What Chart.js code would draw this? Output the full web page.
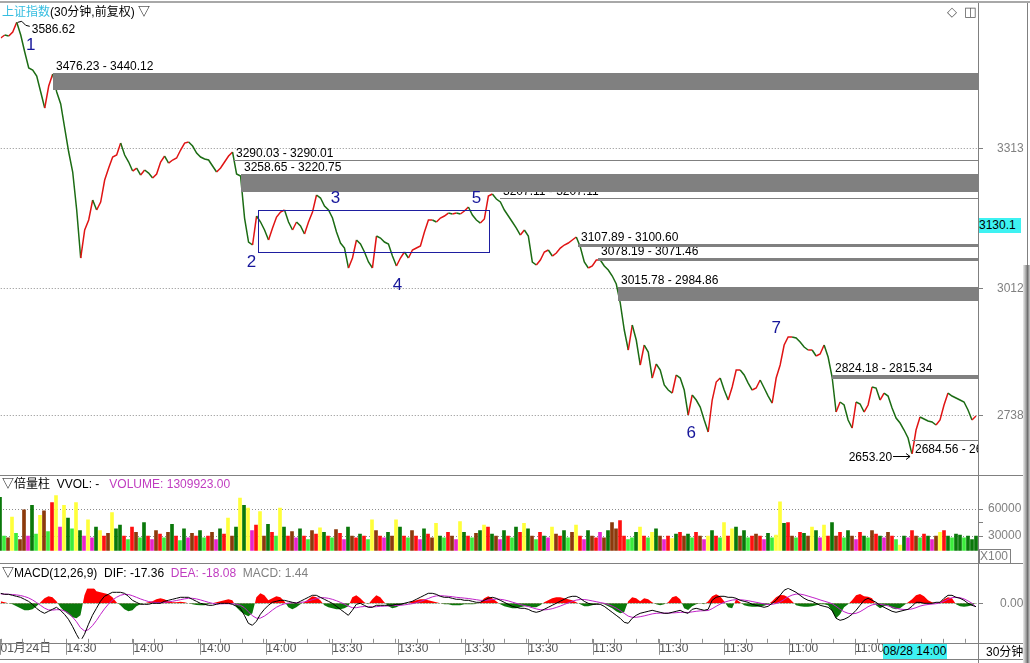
<!DOCTYPE html>
<html><head><meta charset="utf-8">
<script src="https://cdn.jsdelivr.net/npm/chart.js@4/dist/chart.umd.min.js"></script>
<style>
html,body{margin:0;padding:0;background:#fff;}
#wrap{position:relative;width:1030px;height:663px;overflow:hidden;font-family:"Liberation Sans","Noto Sans CJK SC",sans-serif;font-size:12px;color:#000;}
canvas{position:absolute;left:0;}
.t{position:absolute;white-space:nowrap;line-height:14px;}
.ln{position:absolute;background:#808080;}
</style></head><body><div id="wrap">
<canvas id="cPrice" width="1030" height="475" style="top:0px"></canvas>
<canvas id="cVol" width="1030" height="87" style="top:476px"></canvas>
<canvas id="cMacd" width="1030" height="99" style="top:564px"></canvas>

<div class="ln" style="left:0;top:1px;width:1030px;height:2px;background:#a8a8a8"></div>
<div class="ln" style="left:978px;top:3px;width:1px;height:660px"></div>
<div class="ln" style="left:1027px;top:3px;width:1px;height:262px"></div>
<div class="ln" style="left:0;top:475px;width:1030px;height:1px"></div>
<div class="ln" style="left:0;top:563px;width:1030px;height:1px"></div>
<div class="ln" style="left:0;top:643px;width:1030px;height:1px"></div>
<div class="ln" style="left:0;top:659px;width:1030px;height:1px"></div>
<div style="position:absolute;left:1023px;top:265px;width:7px;height:398px;background:linear-gradient(to right,#ececec,#a0a0a0 45%,#6e6e6e 65%,#d0d0d0)"></div>

<div class="t" style="left:2px;top:5px;"><span style="color:#35bde0">上证指数</span>(30分钟,前复权) ▽</div>
<div class="t" style="left:947px;top:5px;color:#555;font-family:'DejaVu Sans';font-size:13px">◇</div>
<div class="t" style="left:964px;top:5px;color:#555;font-family:'DejaVu Sans';font-size:13px">◫</div>
<div class="t" style="left:979px;top:218px;width:42px;height:15px;line-height:15px;background:#3ef2f2">3130.1</div>

<div class="t" style="left:2px;top:477px;">▽倍量柱&nbsp; VVOL: -&nbsp;&nbsp; <span style="color:#c03cc0">VOLUME: 1309923.00</span></div>
<div class="t" style="left:979px;top:549px;width:30px;height:13px;line-height:13px;border:1px solid #808080;color:#808080;">X100</div>

<div class="t" style="left:2px;top:566px;">▽MACD(12,26,9)&nbsp; DIF: -17.36&nbsp; <span style="color:#c03cc0">DEA: -18.08</span>&nbsp; <span style="color:#808080">MACD: 1.44</span></div>
<div class="t" style="left:883px;top:644px;width:64px;height:15px;line-height:15px;background:#3ef2f2">08/28 14:00</div>
<div class="t" style="left:986px;top:645px;">30分钟</div>
</div>
<script>
// ---------- DATA ----------
const priceValues = [
3552.8,3559.2,3557.0,3565.7,3586.6,3559.2,3522.5,3487.9,3483.6,3470.6,
3436.1,3401.5,3449.0,3475.0,3436.1,3410.2,3358.3,3306.5,3263.3,3181.2,
3077.5,3138.0,3159.6,3202.8,3181.2,3198.5,3246.0,3271.9,3295.7,3300.0,
3325.9,3300.0,3284.9,3265.4,3271.9,3256.8,3267.6,3261.1,3250.3,3259.0,
3284.9,3297.8,3282.7,3289.2,3293.5,3310.8,3325.9,3328.1,3319.4,3304.3,
3295.7,3291.4,3289.2,3276.2,3263.3,3271.9,3284.9,3297.8,3306.5,3259.0,
3254.6,3163.9,3112.1,3105.6,3168.2,3155.3,3138.0,3116.4,3142.3,3166.1,
3176.9,3181.2,3155.3,3138.0,3155.3,3146.6,3129.4,3155.3,3176.9,3213.6,
3207.1,3189.8,3181.2,3163.9,3133.7,3109.9,3099.1,3055.9,3077.5,3116.4,
3107.8,3090.5,3068.9,3055.9,3125.0,3120.7,3112.1,3107.8,3081.8,3060.2,
3077.5,3090.5,3077.5,3094.8,3099.1,3103.4,3133.7,3159.6,3159.6,3155.3,
3163.9,3168.2,3174.7,3172.6,3174.7,3172.6,3179.0,3187.7,3170.4,3159.6,
3153.1,3161.8,3211.4,3215.8,3205.0,3198.5,3181.2,3168.2,3155.3,3142.3,
3127.2,3138.0,3125.0,3068.9,3062.4,3073.2,3090.5,3094.8,3081.8,3088.3,
3099.1,3105.6,3109.9,3116.4,3122.9,3101.3,3068.9,3055.9,3060.2,3073.2,
3073.2,3060.2,3051.6,3038.6,3021.4,2980.3,2922.0,2878.8,2932.8,2900.4,
2846.4,2889.6,2874.5,2818.3,2848.6,2835.6,2803.2,2792.4,2785.9,2824.8,
2818.3,2792.4,2738.4,2781.6,2770.8,2755.7,2727.6,2701.7,2770.8,2809.7,
2818.3,2792.4,2770.8,2798.9,2835.6,2835.6,2824.8,2807.5,2792.4,2796.7,
2814.0,2796.7,2779.4,2764.3,2818.3,2846.4,2889.6,2906.9,2906.9,2904.7,
2896.1,2885.3,2878.8,2878.8,2865.8,2870.2,2889.6,2863.7,2820.5,2744.9,
2766.5,2760.0,2727.6,2710.3,2766.5,2762.2,2744.9,2760.0,2798.9,2796.7,
2770.8,2785.9,2779.4,2753.5,2731.9,2721.1,2706.0,2688.7,2653.2,2706.0,
2734.1,2729.8,2725.4,2723.3,2716.8,2727.6,2760.0,2785.9,2779.4,2775.1,
2770.8,2766.5,2749.2,2727.6,2736.2];

const volValues = [
73000,30000,28000,51000,33000,26000,59000,30000,64000,32000,
53000,58000,35000,67000,75000,40000,64000,50000,38000,67000,
36000,30000,48000,28000,40000,36000,30000,33000,56000,38000,
42000,30000,26000,40000,34000,28000,45000,30000,26000,36000,
32000,28000,34000,43000,30000,25000,38000,28000,33000,30000,
36000,28000,30000,34000,26000,38000,32000,50000,30000,40000,
72000,64000,61000,36000,42000,57000,30000,43000,34000,30000,
61000,40000,30000,35000,28000,38000,30000,26000,36000,32000,
39000,34000,30000,28000,37000,33000,26000,40000,30000,28000,
32000,30000,26000,48000,36000,30000,28000,34000,30000,48000,
40000,30000,28000,36000,30000,26000,38000,32000,28000,44000,
30000,28000,34000,30000,26000,46000,34000,30000,28000,33000,
36000,42000,40000,32000,30000,26000,36000,30000,28000,40000,
34000,44000,38000,30000,26000,34000,30000,28000,40000,32000,
30000,36000,28000,34000,42000,30000,26000,36000,30000,28000,
34000,28000,36000,45000,38000,47000,30000,26000,28000,34000,
40000,30000,28000,34000,38000,30000,26000,30000,27000,32000,
34000,30000,32000,28000,34000,30000,26000,30000,36000,30000,
28000,45000,30000,38000,40000,30000,36000,28000,30000,32000,
30000,26000,33000,28000,31000,68000,44000,45000,30000,28000,
34000,33000,30000,40000,36000,28000,42000,30000,45000,30000,
34000,28000,36000,30000,26000,34000,30000,28000,36000,32000,
30000,28000,34000,30000,26000,20000,30000,28000,36000,30000,
28000,32000,30000,26000,30000,34000,36000,30000,28000,32000,
31000,28000,30000,26000,30000];

const volColorCodes = [
"GLBYLBBMGL","YBLRYMYGLY","GMYMGYRBYG","GRLRBLGRMB","RLBGRLGMBR",
"GLRBMGRYBG","YGYMRYBGRL","YGRBMGRLBR","YGRLBRMGBR","GRLYBRMGBY",
"GRLBRMGRBY","GLRBMYGRLB","GYRGBMGRLG","RYGBLRGMYB","RGLBYRMGBR",
"MBGBBRRLLG","YRLYGBMRYG","RBGLRBMYGR","LYRYGBGLRB","RMGLYYGRBL",
"RGBYGMYRGB","RLGBMRGLBR","GMBRLYGMRB","LRGMBYRGLG","GLGGG"].join('').split('');

const difValues = [
50,45,45,40,35,30,20,10,-5,-25,
-40,-50,-40,-30,-20,-35,-55,-80,-115,-155,
-190,-155,-105,-60,-25,10,35,45,55,55,
55,50,35,15,5,-5,-5,-5,0,0,
0,10,15,20,25,30,30,30,20,10,
0,-5,-10,-10,-5,0,0,0,-5,-15,
-25,-60,-100,-110,-90,-55,-30,-10,5,10,
15,15,10,5,0,10,20,30,40,40,
30,20,10,0,-15,-30,-45,-60,-35,-5,
0,-10,-20,-20,-10,-10,-10,-10,-10,-5,
-5,0,5,10,20,30,40,50,50,45,
35,30,30,25,20,20,15,15,10,5,
5,15,25,30,25,15,5,-5,-15,-20,
-25,-25,-30,-40,-45,-40,-30,-20,-10,0,
10,20,30,35,35,25,10,0,-5,-5,
-5,-15,-30,-45,-60,-75,-95,-100,-75,-60,
-50,-45,-40,-35,-40,-45,-50,-50,-45,-40,
-35,-45,-50,-30,-25,-30,-35,-30,15,30,
35,35,30,30,25,15,10,5,-5,-10,
-15,-20,-15,0,15,40,65,75,65,55,
40,25,15,10,0,-10,-15,-20,-35,-75,
-85,-80,-70,-55,-35,-10,15,25,15,5,
-10,-20,-30,-40,-45,-40,-35,-30,-15,5,
5,0,0,0,5,5,25,40,40,30,
25,15,0,-10,-17];

const deaValues = [
47,46,45,44,42,39,34,27,17,4,
-10,-24,-33,-34,-32,-32,-38,-50,-68,-92,
-122,-138,-132,-112,-86,-56,-28,-4,16,30,
40,45,44,38,30,22,15,9,6,4,
3,4,7,10,14,18,22,25,25,22,
17,11,5,0,-3,-3,-2,-2,-2,-5,
-10,-22,-42,-62,-74,-74,-64,-50,-34,-20,
-10,-3,1,3,3,4,7,12,18,24,
28,28,25,20,13,5,-4,-14,-22,-22,
-18,-16,-17,-18,-17,-15,-14,-13,-12,-11,
-10,-8,-5,-2,3,9,16,24,32,37,
38,37,35,33,30,28,26,24,21,18,
15,14,16,19,21,20,17,12,6,0,
-6,-11,-16,-22,-28,-32,-33,-31,-27,-21,
-14,-6,2,10,16,19,19,16,12,8,
4,0,-6,-14,-24,-36,-50,-64,-70,-70,
-67,-63,-58,-53,-50,-49,-49,-49,-48,-47,
-45,-45,-46,-43,-40,-38,-37,-36,-27,-15,
-4,5,11,16,18,18,16,13,9,5,
1,-3,-6,-5,-1,7,19,32,41,46,
46,42,36,30,24,17,11,5,-2,-15,
-30,-42,-50,-53,-50,-42,-30,-17,-8,-4,
-5,-8,-13,-19,-25,-29,-31,-31,-28,-22,
-14,-9,-6,-4,-2,2,10,20,28,30,
28,22,12,0,-18];

const macdValues = [
10,5,0,-5,-15,-25,-35,-35,-30,-15,
5,25,35,30,10,-20,-40,-55,-70,-75,
-60,40,90,85,60,55,50,45,30,5,
-10,-30,-40,-35,-15,-5,0,5,10,20,
25,20,10,5,5,8,5,0,-5,-8,
-10,-10,-5,0,5,10,15,20,15,-20,
-40,-55,-65,-50,30,50,40,15,25,35,
30,10,-20,-30,-20,-5,5,20,35,30,
15,-10,-20,-25,-30,-30,-25,-15,30,40,
25,5,-5,20,40,30,5,-15,-25,-20,
-10,-5,0,10,15,20,20,15,10,5,
0,-5,-5,-10,-10,-10,-5,-5,-5,-3,
5,25,35,25,10,-5,-15,-20,-25,-25,
-20,-15,-15,-20,-20,-10,5,15,25,30,
30,25,20,15,5,-5,-15,-15,-10,-5,
0,-5,-15,-25,-40,-50,-45,10,30,25,
10,25,20,5,-5,-10,-5,5,30,37,
20,-25,-33,-15,-5,0,-5,10,35,45,
35,10,-20,-25,20,5,-10,-15,-17,-17,
-15,-12,-5,10,30,42,40,30,10,-10,
-15,-17,-17,-15,-10,-5,-5,-10,-40,-75,
-55,-20,-5,15,40,47,35,33,25,-10,
-25,-15,-10,-25,-30,-25,-10,5,20,40,
47,35,15,5,0,5,20,30,25,-5,
-15,-17,-15,-10,1.44];

const priceTicks = [3313, 3012, 2738];
const volTicks = [60000, 45000, 30000];
const macdTicks = [0];
const xTickIdx = [0,16.5,33.25,50,66.5,83,99.5,116.25,132,148.25,164.75,181,197.25,213.75];
const xTickLabels = ['01月24日','14:30','14:00','14:00','14:00','13:30','13:30','13:30','13:30','11:30','11:30','11:30','11:00','11:00'];

const gapStart = [13, 58, 60, 125, 144.5, 149.5, 154.5, 208, 228];
const gapHi = [3476.23, 3290.03, 3258.65, 3207.11, 3107.89, 3078.19, 3015.78, 2824.18, 2684.56];
const gapLo = [3440.12, 3290.01, 3220.75, 3207.11, 3100.60, 3071.46, 2984.86, 2815.34, 2684.50];
const gapDir = ['down','down','down','down','down','down','down','down','up'];

const waveNames = ['1','2','3','4','5','6','7'];
const waveIdx = [7.5, 62.75, 83.75, 99.25, 119, 172.75, 194];
const waveVal = [3537.6, 3068.9, 3207, 3019, 3207, 2699.5, 2926.3];
const boxIdx = [64.25, 122.25];
const boxVal = [3181.2, 3090.5];
const peakIdx = 4, peakVal = 3586.62;
const lowIdx = 228, lowVal = 2653.20;

// ---------- CHARTS ----------
Chart.defaults.font.family = '"Liberation Sans","Noto Sans CJK SC",sans-serif';
Chart.defaults.font.size = 12;

const palette = {R:'#ff1010', G:'#0a780a', B:'#8c3a0c', L:'#3cec3c', M:'#e824cc', Y:'#ffff3a'};
const volColors = volColorCodes.map(c => palette[c]);
const N = 244.5;

const common = {
  responsive:false, animation:false, events:[], devicePixelRatio:1,
  layout:{padding:0},
  plugins:{legend:{display:false}, tooltip:{enabled:false}}
};

function rightAxis(tickVals, fmt, pad, min, max){
  return {
    type:'linear', position:'right', min:min, max:max,
    afterFit: s => { s.width = 52; },
    afterBuildTicks: s => { s.ticks = tickVals.map(v => ({value:v})); },
    ticks:{ callback: v => fmt(v), color:'#808080', padding:pad, autoSkip:false, font:{size:12} },
    grid:{ color: c => (c.tick && fmt(c.tick.value) === '') ? 'rgba(0,0,0,0)' : '#8c8c8c',
           lineWidth:1, drawTicks:true, tickLength:5, tickColor:'#808080', tickBorderDash:[] },
    border:{ display:false, dash:[1,2] }
  };
}

const annotPlugin = {
  id:'annot',
  afterDatasetsDraw(chart){
    const {ctx, chartArea:a, scales:{x, y}} = chart;
    ctx.save();
    ctx.beginPath(); ctx.rect(a.left, 0, a.right - a.left, chart.height); ctx.clip();
    ctx.font = '12px "Liberation Sans", sans-serif';
    ctx.fillStyle = '#000'; ctx.textAlign = 'left'; ctx.textBaseline = 'alphabetic';
    const g = gapStart.map((s, k) => ({
      px: Math.round(x.getPixelForValue(s)),
      top: y.getPixelForValue(gapHi[k]), bot: y.getPixelForValue(gapLo[k])
    }));
    g.forEach((o, k) => {
      const txt = gapHi[k].toFixed(2) + ' - ' + gapLo[k].toFixed(2);
      const ty = gapDir[k] === 'up' ? o.bot + 13 : o.top - 3;
      ctx.fillText(txt, o.px + 3, ty);
    });
    ctx.fillStyle = '#808080';
    g.forEach(o => {
      const t = Math.round(o.top);
      ctx.fillRect(o.px, t, a.right - o.px, Math.max(1, Math.round(o.bot - o.top)));
    });
    const bx1 = Math.round(x.getPixelForValue(boxIdx[0])) + 0.5, bx2 = Math.round(x.getPixelForValue(boxIdx[1])) + 0.5;
    const by1 = Math.round(y.getPixelForValue(boxVal[0])) + 0.5, by2 = Math.round(y.getPixelForValue(boxVal[1])) + 0.5;
    ctx.strokeStyle = '#1e1ea0'; ctx.lineWidth = 1;
    ctx.strokeRect(bx1, by1, bx2 - bx1, by2 - by1);
    const ppx = x.getPixelForValue(peakIdx), ppy = y.getPixelForValue(peakVal);
    ctx.strokeStyle = '#000';
    ctx.beginPath(); ctx.moveTo(ppx + 1, ppy); ctx.lineTo(ppx + 5, ppy - 1); ctx.lineTo(ppx + 9, ppy + 3); ctx.lineTo(ppx + 13, ppy + 4); ctx.stroke();
    ctx.fillStyle = '#000';
    ctx.fillText(peakVal.toFixed(2), ppx + 15, ppy + 11);
    const lpx = x.getPixelForValue(lowIdx), lpy = y.getPixelForValue(lowVal);
    ctx.textAlign = 'right';
    ctx.fillText(lowVal.toFixed(2), lpx - 20, lpy + 7);
    const ay = Math.round(lpy + 2) + 0.5;
    ctx.beginPath(); ctx.moveTo(lpx - 19, ay); ctx.lineTo(lpx - 2, ay);
    ctx.moveTo(lpx - 6, ay - 3); ctx.lineTo(lpx - 2, ay); ctx.lineTo(lpx - 6, ay + 3); ctx.stroke();
    ctx.font = '17px "Liberation Sans", sans-serif';
    ctx.fillStyle = '#16169a'; ctx.textAlign = 'center'; ctx.textBaseline = 'middle';
    waveNames.forEach((n, k) => ctx.fillText(n, x.getPixelForValue(waveIdx[k]), y.getPixelForValue(waveVal[k])));
    ctx.restore();
  }
};

const minorTicks = {
  id:'minorTicks',
  afterDraw(chart){
    const {ctx, chartArea:a, scales:{x}} = chart;
    ctx.save(); ctx.strokeStyle = '#909090'; ctx.lineWidth = 1; ctx.beginPath();
    const step = (xTickIdx[xTickIdx.length-1] - xTickIdx[0]) / (xTickIdx.length - 1);
    for (let p = xTickIdx[0]; p <= N; p += step / 3) {
      const px = Math.round(x.getPixelForValue(p)) + 0.5;
      if (px >= a.right) break;
      ctx.moveTo(px, a.bottom); ctx.lineTo(px, a.bottom + 4);
    }
    ctx.stroke(); ctx.restore();
  }
};

const priceChart = new Chart(document.getElementById('cPrice'), {
  type:'line',
  data:{ datasets:[{
    data: priceValues.map((v, i) => ({x:i, y:v})),
    borderWidth:1.5, pointRadius:0, tension:0, borderColor:'#157015',
    segment:{ borderColor: c => c.p1.parsed.y >= c.p0.parsed.y ? '#e01414' : '#1c6c14' }
  }]},
  options:Object.assign({}, common, {
    scales:{
      x:{type:'linear', display:false, min:0, max:N, offset:false},
      y: rightAxis(priceTicks, v => String(v), 14, 2600, 3640)
    }
  }),
  plugins:[annotPlugin]
});

const volChart = new Chart(document.getElementById('cVol'), {
  type:'bar',
  data:{ datasets:[{
    data: volValues.map((v, i) => ({x:i, y:v})),
    backgroundColor: volColors, borderWidth:0, barThickness:3
  }]},
  options:Object.assign({}, common, {
    scales:{
      x:{type:'linear', display:false, min:0, max:N, offset:false, grid:{offset:false}},
      y: rightAxis(volTicks, v => v === 45000 ? '' : String(v), 5, 0, 97000)
    }
  })
});

const macdChart = new Chart(document.getElementById('cMacd'), {
  type:'line',
  data:{ datasets:[
    {data: difValues.map((v, i) => ({x:i, y:v})), borderColor:'#000', borderWidth:1, pointRadius:0, tension:0},
    {data: deaValues.map((v, i) => ({x:i, y:v})), borderColor:'#c020c8', borderWidth:1, pointRadius:0, tension:0},
    {data: macdValues.map((v, i) => ({x:i, y:v})), borderColor:'rgba(0,0,0,0)', borderWidth:0, pointRadius:0, tension:0,
     fill:{target:'origin', above:'#ff0000', below:'#0a780a'}}
  ]},
  options:Object.assign({}, common, {
    scales:{
      x:{type:'linear', min:0, max:N, offset:false, position:'bottom',
         afterFit: s => { s.height = 20; },
         afterBuildTicks: s => { s.ticks = xTickIdx.map(v => ({value:v})); },
         ticks:{ callback:(v, i) => xTickLabels[i], align:'start', padding:-13, color:'#555',
                 autoSkip:false, maxRotation:0, minRotation:0, font:{size:12} },
         grid:{ drawOnChartArea:false, drawTicks:true, tickLength:16, tickColor:'#909090' },
         border:{ display:false }},
      y: rightAxis(macdTicks, v => Number(v).toFixed(2), 17, -200, 200)
    }
  }),
  plugins:[minorTicks]
});

function calibrate(chart, canvasTop, refY, refVal, perPx){
  const a = chart.chartArea;
  chart.options.scales.y.min = refVal - (canvasTop + a.bottom - refY) * perPx;
  chart.options.scales.y.max = refVal + (refY - canvasTop - a.top) * perPx;
  chart.update('none');
}
calibrate(priceChart, 0, 149, 3313, 2.16);
calibrate(volChart, 476, 563, 0, 30000 / 27);
calibrate(macdChart, 564, 603.3, 0, 5);
</script>
</body></html>
